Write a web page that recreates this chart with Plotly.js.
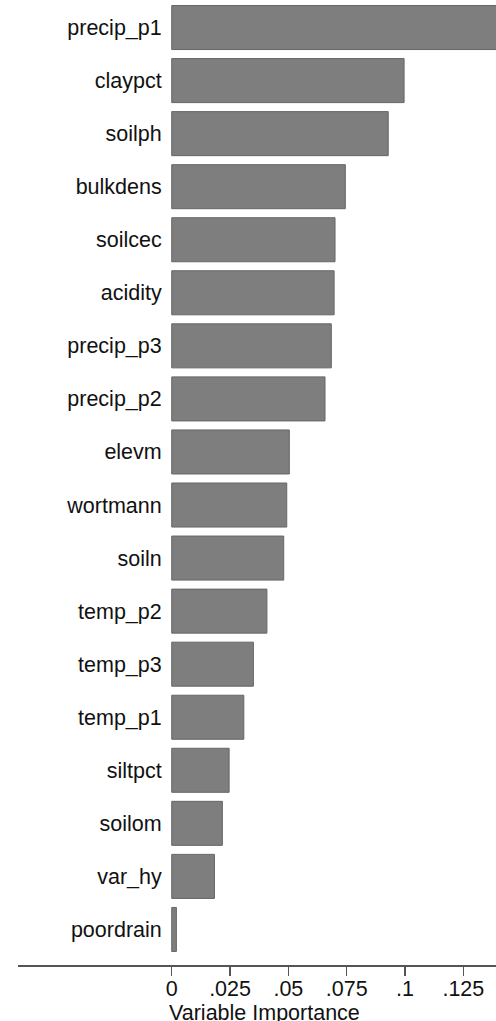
<!DOCTYPE html>
<html>
<head>
<meta charset="utf-8">
<script src="https://cdn.plot.ly/plotly-3.0.1.min.js"></script>
<style>
  html, body { margin: 0; padding: 0; background: #ffffff; }
  #chart { width: 496px; height: 1021px; }
</style>
</head>
<body>
<div id="chart"></div>
<script>
// Predictor names, ordered from most to least important
const variables = [
  "precip_p1", "claypct", "soilph", "bulkdens", "soilcec", "acidity",
  "precip_p3", "precip_p2", "elevm", "wortmann", "soiln", "temp_p2",
  "temp_p3", "temp_p1", "siltpct", "soilom", "var_hy", "poordrain"
];

// Variable importance scores
const importance = [
  0.160, 0.0996, 0.0928, 0.0744, 0.0700, 0.0696,
  0.0684, 0.0657, 0.0504, 0.0493, 0.0480, 0.0408,
  0.0350, 0.0309, 0.0246, 0.0217, 0.0183, 0.0020
];

// Axis ticks
const tickValues = [0, 0.025, 0.05, 0.075, 0.1, 0.125];
const tickLabels = ["0", ".025", ".05", ".075", ".1", ".125"];

const FONT = "Liberation Sans, Arial, Helvetica, sans-serif";
const FSIZE = 21.5;

const trace = {
  type: "bar",
  orientation: "h",
  x: importance,
  y: variables,
  marker: {
    color: "#7e7e7e",
    line: { color: "#666666", width: 1 }
  },
  hoverinfo: "x+y"
};

const xMin = -0.0659, xMax = 0.139;

const layout = {
  width: 496,
  height: 1021,
  margin: { l: 18, r: 0, t: 1, b: 56, pad: 0 },
  paper_bgcolor: "#ffffff",
  plot_bgcolor: "#ffffff",
  showlegend: false,
  bargap: 0.17,
  font: { family: FONT, size: FSIZE, color: "#111111" },
  xaxis: {
    range: [xMin, xMax],
    tickmode: "array",
    tickvals: tickValues,
    ticktext: tickLabels,
    ticks: "outside",
    ticklen: 9,
    tickwidth: 1.5,
    tickcolor: "#555555",
    ticklabelstandoff: -6,
    showline: true,
    linecolor: "#555555",
    linewidth: 2,
    showgrid: false,
    zeroline: false,
    tickfont: { family: FONT, size: FSIZE, color: "#111111" }
  },
  yaxis: {
    type: "category",
    categoryorder: "array",
    categoryarray: variables,
    range: [17.67, -0.5],
    anchor: "free",
    position: (0 - xMin) / (xMax - xMin),
    side: "left",
    ticks: "",
    ticklabelstandoff: 10,
    showline: false,
    showgrid: false,
    zeroline: false,
    tickfont: { family: FONT, size: FSIZE, color: "#111111" }
  },
  annotations: [{
    text: "Variable Importance",
    xref: "paper", yref: "paper",
    x: 0.5157, y: 0,
    xanchor: "center", yanchor: "middle",
    yshift: -48,
    showarrow: false,
    font: { family: FONT, size: FSIZE, color: "#111111" }
  }]
};

Plotly.newPlot("chart", [trace], layout, { displayModeBar: false, staticPlot: true });
</script>
</body>
</html>
